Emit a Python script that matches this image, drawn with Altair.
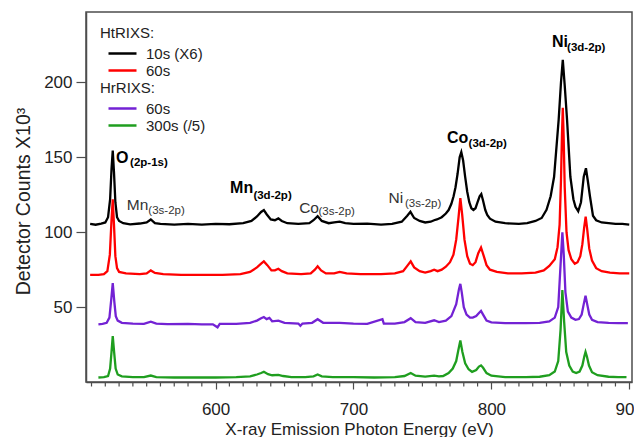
import altair as alt
import pandas as pd

# ---------------- data ----------------
series_ht = ["10s (X6)", "60s"]
series_hr = ["60s", "300s (/5)"]

ht10_energy = [509, 513, 517, 520, 522, 523.5, 524.5, 525.4, 526.3, 527.3, 528.5, 530, 533, 538, 545, 550, 553, 556, 560,
               570, 580, 590, 600, 610, 620, 626, 630, 633, 635, 637, 640, 643, 645.5, 648, 652, 660, 668, 671, 674, 677,
               682, 686, 690, 694, 700, 710, 720, 728, 735, 739, 741.3, 744, 748, 752, 756, 758.5, 760.5, 764, 767, 769,
               771, 772.6, 774, 775.5, 777, 778.2, 779.5, 781, 782.5, 784, 785.5, 787, 788.5, 790, 791.5, 792.7, 794,
               795.6, 797, 799, 803, 810, 820, 826, 832, 836.5, 840, 843, 845.5, 848.8, 850.5, 851.8, 853.2, 854.9,
               857.3, 859.5, 861, 863, 865, 867, 868.6, 870, 871.5, 873.7, 876, 880, 885, 890, 895, 900]
ht10_counts = [105.5, 105, 105.8, 106.5, 110, 122, 142, 154.5, 140, 120, 110, 107.5, 106, 105.2, 105.8, 106.5, 108.5, 106,
               105.5, 105, 105.6, 105, 105.5, 105.3, 106, 107.5, 110.5, 113.5, 114.8, 112, 108.5, 108, 109.2, 107.5, 106,
               105.5, 106, 108, 110.7, 107.5, 106, 106.5, 107, 106, 105.5, 105.7, 105, 105.5, 107, 111, 113.6, 109.5,
               107.5, 106.5, 107, 108, 108.5, 110, 112.5, 114.8, 119, 124, 130, 139, 150, 153.4, 148, 137, 127, 120, 116,
               114.8, 116, 120, 124, 125.5, 121, 114.8, 111.5, 109, 107, 106, 105.5, 106, 107.5, 109.5, 115, 124, 137,
               175, 200, 215, 198, 175, 137, 122, 117, 114, 120, 137, 142.7, 134, 124, 111, 108, 106.5, 106, 105.5,
               105.5, 105]

ht60_energy = [509, 515, 519, 521.5, 523.3, 524.5, 525.4, 526.3, 527.3, 528.5, 530, 535, 545, 550, 553, 556, 562, 575,
               590, 605, 618, 625, 630, 633, 635, 637.5, 640.5, 643, 645.5, 648, 652, 662, 669, 672, 674, 676.5, 680, 686,
               690, 695, 705, 720, 730, 736, 739, 741.5, 744, 748, 752, 756, 758.5, 761, 764, 767, 770, 772.5, 774.5,
               776.2, 777.5, 778.8, 780.5, 782.5, 784.5, 786.5, 788.5, 790.5, 792.5, 794.5, 796.5, 799, 804, 812, 822,
               832, 838, 842, 846, 848, 849.5, 850.5, 851.2, 851.8, 852.4, 853.2, 854.5, 856, 858, 860.5, 862.5, 864.5,
               866, 867.3, 868.4, 869.5, 871, 873, 876, 880, 886, 893, 900]
ht60_counts = [71.5, 71.5, 72, 74, 85, 108, 122, 105, 84, 76, 73.5, 72.5, 72, 72.5, 74.5, 72.8, 72, 71.5, 71.5, 71.5, 72,
               73.5, 76.5, 79, 80.5, 78, 74.5, 74.5, 75.6, 74, 72.5, 72, 72.5, 75, 77.2, 74.5, 72.5, 72.5, 73.5, 72.5, 72,
               72, 72.5, 74, 77.5, 80.5, 76.5, 74, 73, 74, 75, 74, 75, 77, 80, 85, 95, 110, 122.8, 112, 95, 84, 79, 78, 80,
               86, 89.8, 84, 78, 75, 73.5, 72.5, 72.5, 73, 74.5, 77.5, 82, 90, 105, 135, 165, 183, 165, 130, 100, 88, 82,
               79, 80, 84, 92, 103, 110.4, 102, 89, 81, 76, 74, 73, 72.5, 72.5]

hr60_energy = [515, 518, 521, 523, 524.3, 525.4, 526.5, 527.6, 529, 532, 540, 548, 553, 557, 565, 580, 590, 598, 601.4,
               603, 615, 625, 630, 633, 635, 637, 639, 641, 645.5, 650, 660, 661.5, 663, 670, 674, 678, 690, 700, 710, 721,
               722, 730, 737, 741.5, 745, 752, 758.5, 762, 767, 771, 774.5, 776.5, 777.5, 778.5, 780, 782, 784.5, 786.5,
               789, 791, 792.5, 794, 796.5, 800, 810, 825, 835, 842, 846, 848.5, 850, 851.5, 852.5, 853.7, 855.5, 858,
               861, 863.5, 865.5, 867, 868.3, 869.5, 871, 873, 877, 885, 892, 899]
hr60_counts = [38.5, 38.8, 39.5, 43, 55, 66, 54, 44, 41, 39.5, 39, 38.8, 40.3, 39, 38.6, 38.8, 38.5, 38.5, 36.5, 38.8,
               38.8, 39.5, 41, 42.5, 43.4, 42, 42.8, 40.5, 41, 39.5, 39, 37.5, 39, 39.5, 41.9, 39.5, 39.5, 39, 38.8, 42,
               39, 39, 40, 42.6, 40, 39.5, 41.2, 40, 41, 44, 52, 62, 65.5, 60, 50, 45, 43, 43, 44, 46, 47.5, 45, 41, 39.8,
               39.3, 39.3, 39.5, 40.5, 43, 50, 75, 100, 85, 60, 47, 43, 41.5, 42, 45, 52, 57.6, 52, 45, 41.5, 40, 39.5,
               39.3, 39.3]

hr300_energy = [515, 519, 522, 523.5, 524.5, 525.4, 526.4, 527.5, 529, 532, 540, 548, 553, 557, 570, 585, 600, 615, 625,
                630, 633, 635, 638, 641, 645.5, 649, 655, 665, 671, 674, 677, 685, 700, 715, 730, 737, 741.5, 745, 752,
                758.5, 762, 765, 769, 772, 774.5, 776, 777.5, 779, 781, 783.5, 786, 789, 791, 792.5, 794, 796.5, 800, 810,
                825, 835, 842, 846, 848.5, 850.2, 851.5, 852.8, 854.3, 856.5, 859, 861.5, 864, 866, 867.4, 868.3, 869.3,
                870.8, 873, 877, 885, 892, 898]
hr300_counts = [3, 3.2, 4, 9, 20, 30.6, 20, 9, 5, 3.8, 3.2, 3.2, 4.3, 3.3, 3, 3, 3, 3.2, 3.8, 5, 6, 6.8, 5.2, 4.5, 4.8, 4,
                3.3, 3.2, 3.8, 5, 3.8, 3.3, 3.2, 3, 3.2, 4, 6, 4.2, 3.6, 4.2, 3.8, 4, 6, 9, 14, 21, 27.7, 20, 12.5, 8.5,
                6.8, 8, 10.3, 11.1, 9.5, 6, 4.2, 3.3, 3.3, 3.5, 4.5, 7, 14, 35, 61.4, 40, 20, 11, 7, 6, 7, 11, 17, 20.1,
                17, 11, 6.5, 4.5, 3.5, 3.3, 3.2]

# annotations (element + transition), anchored in data units
ann_main = ["O", "Mn", "Mn", "Co", "Ni", "Co", "Ni"]
ann_sub = ["(2p-1s)", "(3s-2p)", "(3d-2p)", "(3s-2p)", "(3s-2p)", "(3d-2p)", "(3d-2p)"]
ann_bold = [True, False, True, False, False, True, True]
ann_main_e = [527.8, 535.6, 610.5, 660.6, 725.4, 767.8, 844.0]
ann_main_v = [149.5, 118.2, 129.5, 116.2, 122.8, 162.9, 227.2]
ann_sub_e = [538.0, 551.2, 627.4, 674.6, 737.3, 783.5, 854.9]
ann_sub_v = [146.2, 114.2, 124.2, 113.5, 118.8, 158.9, 223.3]

x_ticks_major = [600, 700, 800, 900]
x_ticks_minor = [510, 520, 530, 540, 550, 560, 570, 580, 590, 610, 620, 630, 640, 650, 660, 670, 680, 690,
                 710, 720, 730, 740, 750, 760, 770, 780, 790, 810, 820, 830, 840, 850, 860, 870, 880, 890]
y_ticks = [50, 100, 150, 200]

# ---------------- build tables ----------------
ht_df = pd.concat([
    pd.DataFrame({"energy": ht10_energy, "counts": ht10_counts, "series": series_ht[0], "ord": 0}),
    pd.DataFrame({"energy": ht60_energy, "counts": ht60_counts, "series": series_ht[1], "ord": 1}),
])
hr_df = pd.concat([
    pd.DataFrame({"energy": hr60_energy, "counts": hr60_counts, "series": series_hr[0], "ord": 0}),
    pd.DataFrame({"energy": hr300_energy, "counts": hr300_counts, "series": series_hr[1], "ord": 1}),
])
ann_df = pd.DataFrame({"main": ann_main, "sub": ann_sub, "bold": ann_bold,
                       "me": ann_main_e, "mv": ann_main_v, "se": ann_sub_e, "sv": ann_sub_v})
minor_df = pd.DataFrame({"energy": x_ticks_minor})

FONT = "Liberation Sans"
AX = "#4d4d4d"
TXT = "#222222"
W, H = 546, 370

xscale = alt.Scale(domain=[506, 902], nice=False, zero=False)
yscale = alt.Scale(domain=[0, 247], nice=False, zero=False)

x_axis = alt.Axis(title="X-ray Emission Photon Energy (eV)", values=x_ticks_major, tickSize=7,
                  labelOverlap=False, labelFlush=False, labelPadding=12, titlePadding=4, grid=False, format="d")
y_axis = alt.Axis(title="Detector Counts X10³", values=y_ticks, tickSize=10, labelPadding=4,
                  titlePadding=10, grid=False, titleFontSize=19.5, titleY=189)

leg_common = dict(orient="none", symbolType="M-2,0H2", symbolSize=196, symbolStrokeWidth=2.5,
                  labelFontSize=15, titleFontSize=15, titleFontWeight="normal", labelFont=FONT,
                  titleFont=FONT, labelColor=TXT, titleColor=TXT, labelOffset=15, titlePadding=4,
                  rowPadding=0, padding=0, symbolOffset=14)

ht_lines = alt.Chart(ht_df).mark_line(strokeWidth=2.3).encode(
    x=alt.X("energy:Q", scale=xscale, axis=x_axis),
    y=alt.Y("counts:Q", scale=yscale, axis=y_axis),
    color=alt.Color("series:N", sort=series_ht,
                    scale=alt.Scale(domain=series_ht, range=["#000000", "#ff0000"]),
                    legend=alt.Legend(title="HtRIXS:", legendX=14, legendY=14, **leg_common)),
    order="ord:Q",
)
hr_lines = alt.Chart(hr_df).mark_line(strokeWidth=2.3).encode(
    x=alt.X("energy:Q", scale=xscale),
    y=alt.Y("counts:Q", scale=yscale),
    stroke=alt.Stroke("series:N", sort=series_hr,
                      scale=alt.Scale(domain=series_hr, range=["#7322d4", "#1f9e1f"]),
                      legend=alt.Legend(title="HrRIXS:", legendX=14, legendY=69, **leg_common)),
    order="ord:Q",
)
minor_ticks = alt.Chart(minor_df).mark_rule(color=AX, strokeWidth=1.2).encode(
    x=alt.X("energy:Q", scale=xscale),
    y=alt.value(H + 0.75), y2=alt.value(H + 4.5),
)

def ann_layer(bold, sub):
    base = alt.Chart(ann_df).transform_filter("datum.bold" if bold else "!datum.bold")
    weight = "bold" if bold else "normal"
    col = "#000000" if bold else "#333333"
    if sub:
        mk = base.mark_text(align="left", baseline="middle", font=FONT, fontSize=11.5,
                            fontWeight=weight, color=col)
        return mk.encode(x=alt.X("se:Q", scale=xscale), y=alt.Y("sv:Q", scale=yscale), text="sub:N")
    mk = base.mark_text(align="left", baseline="middle", font=FONT, fontSize=16 if bold else 15.5,
                        fontWeight=weight, color=col)
    return mk.encode(x=alt.X("me:Q", scale=xscale), y=alt.Y("mv:Q", scale=yscale), text="main:N")

chart = alt.layer(
    ht_lines, hr_lines, minor_ticks,
    ann_layer(True, False), ann_layer(True, True), ann_layer(False, False), ann_layer(False, True),
).resolve_scale(color="independent", stroke="independent").properties(
    width=W, height=H,
    padding={"left": 78, "top": 4, "right": 2, "bottom": 55},
    autosize=alt.AutoSizeParams(type="none"),
).configure_view(stroke=AX, strokeWidth=1.5).configure_axis(
    domainColor=AX, domainWidth=1.5, tickColor=AX, tickWidth=1.2,
    labelFont=FONT, titleFont=FONT, labelFontSize=17, titleFontSize=17,
    titleFontWeight="normal", labelColor=TXT, titleColor=TXT,
)

chart.save("out.html", embed_options={"renderer": "svg", "actions": False})
